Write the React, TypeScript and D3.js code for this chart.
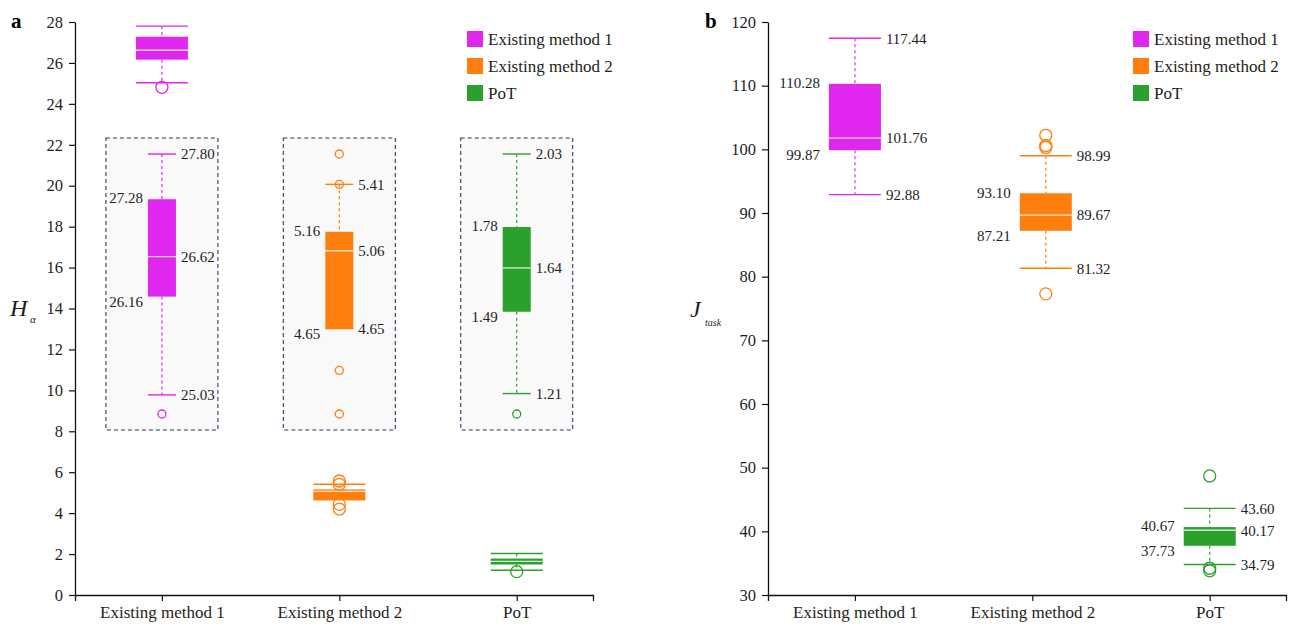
import React, { useEffect, useRef } from "react";
import * as d3 from "d3";

// ---- data ----
const categories = ["Existing method 1", "Existing method 2", "PoT"];
const seriesColors = ["#e126ef", "#ff7f0e", "#2ca02c"];

// Panel a: H_alpha box statistics per method
const hWhiskerLow = [25.03, 4.65, 1.21];
const hQ1 = [26.16, 4.65, 1.49];
const hMedian = [26.62, 5.06, 1.64];
const hQ3 = [27.28, 5.16, 1.78];
const hWhiskerHigh = [27.8, 5.41, 2.03];
const hOutliers = [[24.81], [5.57, 5.41, 4.43, 4.2], [1.14]];
const hTicks = [0, 2, 4, 6, 8, 10, 12, 14, 16, 18, 20, 22, 24, 26, 28];

// Panel b: J_task box statistics per method
const jWhiskerLow = [92.88, 81.32, 34.79];
const jQ1 = [99.87, 87.21, 37.73];
const jMedian = [101.76, 89.67, 40.17];
const jQ3 = [110.28, 93.1, 40.67];
const jWhiskerHigh = [117.44, 98.99, 43.6];
const jOutliers = [[], [102.2, 100.6, 100.3, 77.3], [48.7, 34.2, 33.8]];
const jTicks = [30, 40, 50, 60, 70, 80, 90, 100, 110, 120];

// ---- layout ----
const W = 1293;
const H = 626;
const FONT = "'Liberation Serif', 'Times New Roman', Times, serif";
const TEXT = "#1e1e1e";
const catPos = [1, 2, 3];
const boxPosB = [1, 2.076, 3];

const panelA = { left: 75, right: 593, top: 22, bottom: 595 };
const panelB = { left: 768, right: 1286, top: 22, bottom: 595 };

const xA = d3.scaleLinear().domain([0.51, 3.43]).range([panelA.left, panelA.right]);
const xB = d3.scaleLinear().domain([0.51, 3.43]).range([panelB.left, panelB.right]);
const yA = d3.scaleLinear().domain([0, 28]).range([panelA.bottom, panelA.top]);
const yB = d3.scaleLinear().domain([30, 120]).range([panelB.bottom, panelB.top]);

type Stats = { wl: number; q1: number; med: number; q3: number; wh: number; out: number[] };

const statsA: Stats[] = categories.map((_, i) => ({
  wl: hWhiskerLow[i], q1: hQ1[i], med: hMedian[i], q3: hQ3[i], wh: hWhiskerHigh[i], out: hOutliers[i],
}));
const statsB: Stats[] = categories.map((_, i) => ({
  wl: jWhiskerLow[i], q1: jQ1[i], med: jMedian[i], q3: jQ3[i], wh: jWhiskerHigh[i], out: jOutliers[i],
}));

const fmt = (v: number) => v.toFixed(2);

type BoxProps = {
  cx: number;
  y: d3.ScaleLinear<number, number>;
  s: Stats;
  color: string;
  boxW: number;
  r: number;
  labels?: boolean;
  labelSize?: number;
  gapL?: number;
};

function BoxGlyph({ cx, y, s, color, boxW, r, labels, labelSize = 15, gapL = 6 }: BoxProps) {
  const half = boxW / 2;
  return (
    <g>
      <line x1={cx} x2={cx} y1={y(s.wh)} y2={y(s.q3)} stroke={color} strokeWidth={1.2} strokeDasharray="3,3" />
      <line x1={cx} x2={cx} y1={y(s.q1)} y2={y(s.wl)} stroke={color} strokeWidth={1.2} strokeDasharray="3,3" />
      <line x1={cx - half} x2={cx + half} y1={y(s.wh)} y2={y(s.wh)} stroke={color} strokeWidth={1.4} />
      <line x1={cx - half} x2={cx + half} y1={y(s.wl)} y2={y(s.wl)} stroke={color} strokeWidth={1.4} />
      <rect x={cx - half} y={y(s.q3)} width={boxW} height={Math.max(1, y(s.q1) - y(s.q3))} fill={color} />
      <line x1={cx - half} x2={cx + half} y1={y(s.med)} y2={y(s.med)} stroke="#ffffff" strokeOpacity={0.8} strokeWidth={1.3} />
      {s.out.map((v, k) => (
        <circle key={k} cx={cx} cy={y(v)} r={r} fill="none" stroke={color} strokeWidth={1.3} />
      ))}
      {labels && (
        <g fontFamily={FONT} fontSize={labelSize} fill={TEXT}>
          <text x={cx + half + 5} y={y(s.wh)} dy="0.35em">{fmt(s.wh)}</text>
          <text x={cx - half - gapL} y={y(s.q3) - 1} dy="0.35em" textAnchor="end">{fmt(s.q3)}</text>
          <text x={cx + half + 5} y={y(s.med)} dy="0.35em">{fmt(s.med)}</text>
          <text x={cx - half - gapL} y={y(s.q1) + 5} dy="0.35em" textAnchor="end">{fmt(s.q1)}</text>
          <text x={cx + half + 5} y={y(s.wl)} dy="0.35em">{fmt(s.wl)}</text>
        </g>
      )}
    </g>
  );
}

// Magnified view of one distribution, drawn inside a dashed frame
function Inset({ cx, s, color }: { cx: number; s: Stats; color: string }) {
  const top = 138;
  const bottom = 430;
  const halfW = 56;
  const vals = [s.wl, s.q1, s.med, s.q3, s.wh, ...s.out];
  const yi = d3.scaleLinear().domain([d3.min(vals)!, d3.max(vals)!]).range([bottom - 16, top + 16]);
  return (
    <g>
      <rect
        x={cx - halfW}
        y={top}
        width={halfW * 2}
        height={bottom - top}
        fill="#f9f9f9"
        stroke="#2d3b5e"
        strokeWidth={1.1}
        strokeDasharray="4,3"
      />
      <BoxGlyph cx={cx} y={yi} s={s} color={color} boxW={28} r={4} labels gapL={5} />
    </g>
  );
}

function Legend({ x, y0 }: { x: number; y0: number }) {
  return (
    <g fontFamily={FONT} fontSize={17} fill={TEXT}>
      {categories.map((c, i) => (
        <g key={c} transform={`translate(${x},${y0 + i * 27})`}>
          <rect x={0} y={-8} width={16} height={16} fill={seriesColors[i]} />
          <text x={21} y={0} dy="0.35em">{c}</text>
        </g>
      ))}
    </g>
  );
}

function styleAxis(g: d3.Selection<SVGGElement, unknown, null, undefined>, size: number) {
  g.attr("font-family", FONT).attr("font-size", size);
  g.selectAll("path.domain").attr("stroke", "#111").attr("stroke-width", 1.3);
  g.selectAll(".tick line").attr("stroke", "#111").attr("stroke-width", 1.2);
  g.selectAll(".tick text").attr("fill", TEXT);
}

export default function App() {
  const ref = useRef<SVGSVGElement>(null);

  useEffect(() => {
    const svg = d3.select(ref.current);
    const axes: [d3.ScaleLinear<number, number>, d3.ScaleLinear<number, number>, typeof panelA, number[]][] = [
      [xA, yA, panelA, hTicks],
      [xB, yB, panelB, jTicks],
    ];
    svg.selectAll("g.axes").remove();
    axes.forEach(([x, y, p, ticks]) => {
      const root = svg.append("g").attr("class", "axes");
      const gy = root.append("g").attr("transform", `translate(${p.left},0)`);
      gy.call(d3.axisLeft(y).tickValues(ticks).tickFormat(d3.format("d")).tickSize(6).tickSizeOuter(0).tickPadding(6));
      styleAxis(gy, 16.5);
      const gx = root.append("g").attr("transform", `translate(0,${p.bottom})`);
      gx.call(
        d3.axisBottom(x)
          .tickValues(catPos)
          .tickFormat((_, i) => categories[i])
          .tickSize(6)
          .tickSizeOuter(6)
          .tickPadding(5)
      );
      styleAxis(gx, 17);
    });
  }, []);

  return (
    <svg
      ref={ref}
      width={W}
      height={H}
      style={{ position: "absolute", left: 0, top: 0, display: "block", background: "#fff" }}
    >
      {/* panel letters */}
      <text x={11} y={28} fontFamily={FONT} fontSize={21} fontWeight="bold" fill="#000">a</text>
      <text x={705} y={28} fontFamily={FONT} fontSize={21} fontWeight="bold" fill="#000">b</text>

      {/* axis titles */}
      <text x={10} y={316} fontFamily={FONT} fontSize={24} fontStyle="italic" fill={TEXT}>H</text>
      <text x={30} y={323} fontFamily={FONT} fontSize={11} fontStyle="italic" fill={TEXT}>α</text>
      <text x={690} y={317} fontFamily={FONT} fontSize={24} fontStyle="italic" fill={TEXT}>J</text>
      <text x={705} y={326} fontFamily={FONT} fontSize={10} fontStyle="italic" fill={TEXT}>task</text>

      {/* panel a: full-scale boxes and zoomed insets */}
      {statsA.map((s, i) => (
        <g key={`a${i}`}>
          <Inset cx={xA(catPos[i])} s={s} color={seriesColors[i]} />
          <BoxGlyph cx={xA(catPos[i])} y={yA} s={s} color={seriesColors[i]} boxW={52} r={6} />
        </g>
      ))}
      <Legend x={467} y0={39} />

      {/* panel b */}
      {statsB.map((s, i) => (
        <BoxGlyph
          key={`b${i}`}
          cx={xB(boxPosB[i])}
          y={yB}
          s={s}
          color={seriesColors[i]}
          boxW={52}
          r={6}
          labels
          gapL={9}
        />
      ))}
      <Legend x={1133} y0={39} />
    </svg>
  );
}
